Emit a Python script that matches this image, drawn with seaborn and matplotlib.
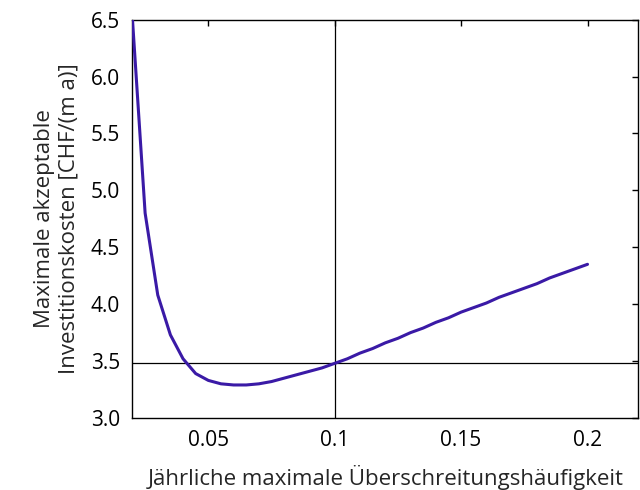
import matplotlib
matplotlib.use("Agg")
import matplotlib.pyplot as plt
import seaborn as sns
import pandas as pd

# Data
freq = [0.02, 0.025, 0.03, 0.035, 0.04, 0.045, 0.05, 0.055, 0.06, 0.065, 0.07,
        0.075, 0.08, 0.085, 0.09, 0.095, 0.1, 0.105, 0.11, 0.115, 0.12, 0.125,
        0.13, 0.135, 0.14, 0.145, 0.15, 0.155, 0.16, 0.165, 0.17, 0.175, 0.18,
        0.185, 0.19, 0.195, 0.2]
cost = [6.50, 4.80, 4.08, 3.73, 3.52, 3.39, 3.33, 3.30, 3.29, 3.29, 3.30,
        3.32, 3.35, 3.38, 3.41, 3.44, 3.48, 3.52, 3.57, 3.61, 3.66, 3.70,
        3.75, 3.79, 3.84, 3.88, 3.93, 3.97, 4.01, 4.06, 4.10, 4.14, 4.18,
        4.23, 4.27, 4.31, 4.35]
ref_x = 0.1
ref_y = 3.48
xticks = [0.05, 0.1, 0.15, 0.2]
xticklabels = ["0.05", "0.1", "0.15", "0.2"]
yticks = [3.0, 3.5, 4.0, 4.5, 5.0, 5.5, 6.0, 6.5]

df = pd.DataFrame({"freq": freq, "cost": cost})

sns.set_style("white")
plt.rcParams["font.family"] = ["Open Sans", "DejaVu Sans"]

fig = plt.figure(figsize=(6.4, 4.9), dpi=100)
ax = fig.add_axes([0.207, 0.147, 0.790, 0.813])

ax.axvline(ref_x, color="black", lw=0.9, zorder=1)
ax.axhline(ref_y, color="black", lw=0.9, zorder=1)
sns.lineplot(data=df, x="freq", y="cost", ax=ax, color="#3a1aa6", lw=2.2, zorder=3)

ax.set_xlim(0.02, 0.22)
ax.set_ylim(3.0, 6.5)
ax.set_xticks(xticks)
ax.set_xticklabels(xticklabels)
ax.set_yticks(yticks)
ax.set_yticklabels([f"{v:.1f}" for v in yticks])

ax.tick_params(direction="in", length=4, width=1, top=True, right=True,
               labelsize=15, colors="black", pad=9)
for s in ax.spines.values():
    s.set_visible(True)
    s.set_color("black")
    s.set_linewidth(1.0)

ax.set_xlabel("Jährliche maximale Überschreitungshäufigkeit", fontsize=16, labelpad=10)
ax.set_ylabel("Maximale akzeptable\nInvestitionskosten [CHF/(m a)]", fontsize=16,
              labelpad=8, linespacing=1.2)

fig.savefig("out.png", dpi=100, facecolor="white")
